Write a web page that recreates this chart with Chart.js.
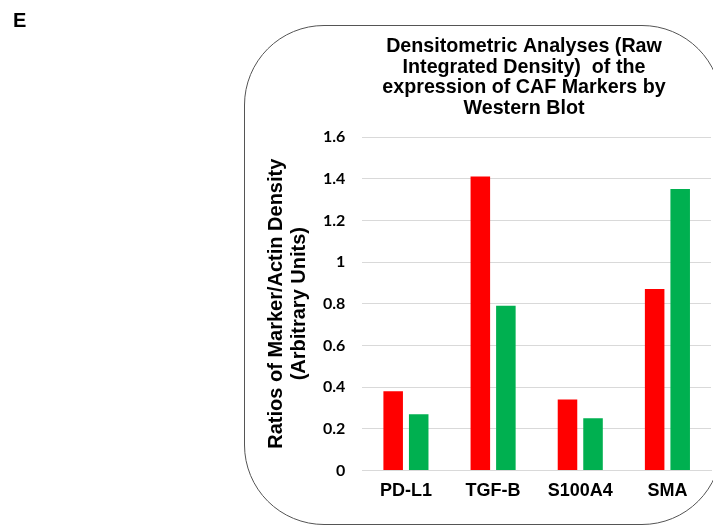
<!DOCTYPE html>
<html>
<head>
<meta charset="utf-8">
<script src="https://cdn.jsdelivr.net/npm/chart.js@4/dist/chart.umd.min.js"></script>
<style>
    body { margin: 0; background: #fff; overflow: hidden; }
    #wrap { position: relative; width: 713px; height: 527px; }
    #frame {
        position: absolute; left: 244px; top: 25px; width: 478px; height: 500px;
        border: 1.5px solid #555; border-radius: 80px; box-sizing: border-box;
    }
    #chart { position: absolute; left: 0; top: 0; }
</style>
</head>
<body>
<div id="wrap">
    <div id="frame"></div>
    <canvas id="chart" width="713" height="527"></canvas>
</div>
<script>
//---------
//Data
//---------

//Categories (markers)
const categories = ["PD-L1", "TGF-B", "S100A4", "SMA"];

//Series values
const seriesRed = [0.38, 1.41, 0.34, 0.87];
const seriesGreen = [0.27, 0.79, 0.25, 1.35];

//Value axis ticks
const yTicks = [0, 0.2, 0.4, 0.6, 0.8, 1, 1.2, 1.4, 1.6];

//Texts
const panelLetter = "E";
const titleLines = ["Densitometric Analyses (Raw", "Integrated Density)  of the", "expression of CAF Markers by", "Western Blot"];
const yTitleLines = ["Ratios of Marker/Actin Density", "(Arbitrary Units)"];

//---------
//Constants
//---------

const ARIAL = '"Liberation Sans", Arial, sans-serif';
const GRID_COLOR = "#d9d9d9";

//-----------
//Plugins
//-----------

//Chart title and panel letter drawn on canvas
const headerPlugin = {
    id: "header",
    afterDraw(chart) {
        const ctx = chart.ctx;
        ctx.save();
        ctx.fillStyle = "#000";
        ctx.textBaseline = "alphabetic";
        ctx.font = "bold 20px " + ARIAL;
        ctx.textAlign = "left";
        ctx.fillText(panelLetter, 13, 27);
        ctx.font = "bold 19.7px " + ARIAL;
        ctx.textAlign = "center";
        titleLines.forEach((line, i) => ctx.fillText(line, 524, 52 + i * 20.7));
        ctx.restore();
    }
};

//-----------
//Chart
//-----------

new Chart(document.getElementById("chart"), {
    type: "bar",
    data: {
        labels: categories,
        datasets: [
            { label: "Series 1", data: seriesRed, backgroundColor: "#ff0000", borderWidth: 0 },
            { label: "Series 2", data: seriesGreen, backgroundColor: "#00b050", borderWidth: 0 }
        ]
    },
    options: {
        responsive: false,
        animation: false,
        categoryPercentage: 0.586,
        barPercentage: 0.765,
        layout: { padding: { left: 262, right: 2, top: 137, bottom: 15 } },
        plugins: {
            legend: { display: false },
            title: { display: false },
            tooltip: { enabled: false }
        },
        scales: {
            x: {
                grid: { display: false, drawTicks: false },
                border: { display: true, color: GRID_COLOR, width: 1 },
                ticks: { color: "#000", padding: 10, font: { family: ARIAL, size: 18, weight: "bold" } }
            },
            y: {
                min: yTicks[0],
                max: yTicks[yTicks.length - 1],
                afterBuildTicks: scale => {
                    scale.ticks = yTicks.map(v => ({ value: v }));
                },
                grid: { color: GRID_COLOR, lineWidth: 1, drawTicks: false },
                border: { display: false },
                ticks: {
                    color: "#000",
                    padding: 17,
                    font: { family: "Lato, sans-serif", size: 16, weight: "bold" },
                    callback: v => String(Math.round(v * 10) / 10)
                },
                title: {
                    display: true,
                    text: yTitleLines,
                    color: "#000",
                    padding: { top: 3, bottom: -5 },
                    font: { family: ARIAL, size: 20, weight: "bold", lineHeight: 1.15 }
                }
            }
        }
    },
    plugins: [headerPlugin]
});
</script>
</body>
</html>
